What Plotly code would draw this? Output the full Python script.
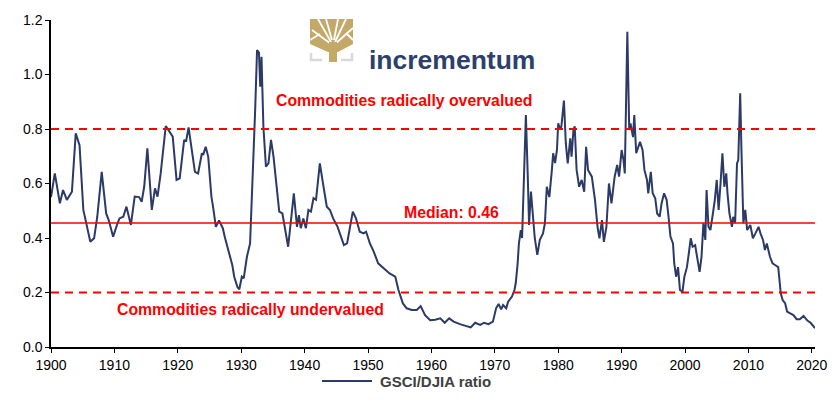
import plotly.graph_objects as go

# GSCI/DJIA ratio
years = [
    1900.0, 1900.6, 1901.4, 1901.9, 1902.5, 1903.3, 1903.9, 1904.5, 1905.1, 1905.6,
    1906.2, 1906.8, 1907.3, 1908.0, 1908.7, 1909.1, 1909.8, 1910.5, 1910.8, 1911.4,
    1911.9, 1912.6, 1913.2, 1913.9, 1914.3, 1914.7, 1915.2, 1915.9, 1916.4, 1916.8,
    1917.3, 1918.1, 1918.8, 1919.2, 1919.8, 1920.3, 1921.0, 1921.3, 1921.7, 1922.2,
    1922.7, 1923.2, 1923.8, 1924.0, 1924.4, 1924.8, 1925.3, 1925.6, 1926.0, 1926.5,
    1927.1, 1927.4, 1928.0, 1928.6, 1928.9, 1929.4, 1929.7, 1930.1, 1930.4, 1930.9,
    1931.4, 1931.8, 1932.2, 1932.5, 1932.8, 1933.0, 1933.2, 1933.5, 1933.9, 1934.3,
    1934.7, 1935.1, 1935.6, 1936.0, 1936.5, 1936.9, 1937.4, 1937.8, 1938.3, 1938.8,
    1939.1, 1939.4, 1939.8, 1940.2, 1940.6, 1941.0, 1941.4, 1941.8, 1942.4, 1942.9,
    1943.5, 1944.0, 1944.5, 1945.2, 1945.6, 1946.2, 1946.7, 1947.2, 1947.6, 1948.1,
    1948.7, 1949.3, 1949.7, 1950.3, 1950.9, 1951.6, 1952.4, 1953.4, 1954.3, 1954.8,
    1955.5, 1956.1, 1956.9, 1957.7, 1958.3, 1959.0, 1959.8, 1960.6, 1961.4, 1962.1,
    1962.8, 1963.5, 1964.5, 1965.6, 1966.2, 1966.9, 1967.7, 1968.3, 1969.0, 1969.7,
    1970.2, 1970.6, 1971.0, 1971.3, 1971.8, 1972.1, 1972.7, 1973.1, 1973.3, 1973.6,
    1973.8, 1974.1, 1974.3, 1974.6, 1974.9, 1975.2, 1975.4, 1975.7, 1976.1, 1976.3,
    1976.7, 1977.1, 1977.6, 1977.9, 1978.2, 1978.6, 1979.0, 1979.2, 1979.5, 1979.8,
    1980.0, 1980.3, 1980.5, 1980.9, 1981.2, 1981.5, 1981.9, 1982.1, 1982.4, 1982.6,
    1982.9, 1983.3, 1983.7, 1984.1, 1984.4, 1984.7, 1985.3, 1985.8, 1986.2, 1986.5,
    1986.9, 1987.2, 1987.6, 1988.0, 1988.4, 1988.9, 1989.3, 1989.6, 1990.0, 1990.3,
    1990.5, 1990.9, 1991.2, 1991.4, 1991.8, 1992.0, 1992.3, 1992.6, 1992.9, 1993.3,
    1993.6, 1994.0, 1994.2, 1994.6, 1994.9, 1995.3, 1995.6, 1996.0, 1996.3, 1996.7,
    1997.1, 1997.4, 1997.7, 1998.1, 1998.3, 1998.6, 1998.9, 1999.2, 1999.6, 1999.9,
    2000.3, 2000.6, 2000.9, 2001.2, 2001.6, 2001.9, 2002.3, 2002.6, 2002.9, 2003.2,
    2003.4, 2003.7, 2004.0, 2004.4, 2004.7, 2005.0, 2005.3, 2005.6, 2005.9, 2006.2,
    2006.5, 2006.7, 2007.0, 2007.4, 2007.6, 2007.9, 2008.2, 2008.4, 2008.7, 2008.9,
    2009.2, 2009.5, 2009.8, 2010.3, 2010.7, 2011.1, 2011.6, 2011.9, 2012.3, 2012.6,
    2012.9, 2013.4, 2013.8, 2014.2, 2014.7, 2015.1, 2015.4, 2015.8, 2016.1, 2016.6,
    2017.1, 2017.6, 2018.1, 2018.7, 2019.3, 2019.8, 2020.5,
]
ratio = [
    0.55, 0.637, 0.527, 0.576, 0.54, 0.57, 0.784, 0.741, 0.503, 0.454,
    0.386, 0.399, 0.478, 0.643, 0.49, 0.466, 0.405, 0.454, 0.472, 0.478,
    0.515, 0.448, 0.552, 0.55, 0.533, 0.588, 0.729, 0.503, 0.582, 0.552,
    0.637, 0.811, 0.784, 0.772, 0.613, 0.619, 0.76, 0.754, 0.806, 0.723,
    0.643, 0.637, 0.711, 0.705, 0.735, 0.698, 0.552, 0.509, 0.441, 0.464,
    0.436, 0.405, 0.35, 0.30, 0.258, 0.22, 0.212, 0.258, 0.252, 0.331,
    0.38, 0.60, 0.87, 1.09, 1.08, 0.955, 1.065, 0.808, 0.662, 0.674,
    0.76, 0.698, 0.576, 0.497, 0.49, 0.429, 0.368, 0.454, 0.564, 0.441,
    0.484, 0.436, 0.472, 0.436, 0.503, 0.497, 0.546, 0.54, 0.674, 0.60,
    0.515, 0.503, 0.472, 0.441, 0.417, 0.374, 0.38, 0.454, 0.497, 0.472,
    0.423, 0.417, 0.423, 0.38, 0.35, 0.307, 0.289, 0.27, 0.258, 0.209,
    0.16, 0.142, 0.136, 0.136, 0.15, 0.117, 0.098, 0.1, 0.105, 0.089,
    0.105, 0.093, 0.084, 0.077, 0.072, 0.089, 0.081, 0.089, 0.084, 0.093,
    0.142, 0.158, 0.138, 0.154, 0.142, 0.166, 0.185, 0.209, 0.234, 0.307,
    0.38, 0.429, 0.4, 0.625, 0.851, 0.625, 0.448, 0.57, 0.429, 0.4,
    0.338, 0.393, 0.417, 0.454, 0.588, 0.55, 0.65, 0.711, 0.675, 0.723,
    0.821, 0.797, 0.81, 0.904, 0.747, 0.674, 0.766, 0.698, 0.796, 0.81,
    0.65, 0.588, 0.613, 0.57, 0.735, 0.65, 0.625, 0.54, 0.441, 0.399,
    0.466, 0.386, 0.441, 0.6, 0.527, 0.625, 0.668, 0.625, 0.723, 0.686,
    0.637, 1.157, 0.796, 0.82, 0.77, 0.851, 0.711, 0.735, 0.753, 0.723,
    0.65, 0.613, 0.564, 0.643, 0.564, 0.546, 0.49, 0.478, 0.527, 0.564,
    0.54, 0.478, 0.405, 0.38, 0.307, 0.258, 0.293, 0.209, 0.203, 0.258,
    0.293, 0.344, 0.399, 0.368, 0.374, 0.331, 0.276, 0.331, 0.454, 0.393,
    0.576, 0.441, 0.429, 0.49, 0.54, 0.613, 0.503, 0.6, 0.711, 0.588,
    0.637, 0.564, 0.49, 0.441, 0.478, 0.454, 0.674, 0.686, 0.931, 0.723,
    0.454, 0.503, 0.429, 0.448, 0.399, 0.417, 0.441, 0.417, 0.393, 0.356,
    0.38, 0.331, 0.307, 0.301, 0.293, 0.197, 0.172, 0.16, 0.13, 0.123,
    0.117, 0.102, 0.102, 0.114, 0.097, 0.089, 0.069,
]

median = 0.455
over_level = 0.8
under_level = 0.2
y_ticks = [0.0, 0.2, 0.4, 0.6, 0.8, 1.0, 1.2]
x_ticks = list(range(1900, 2021, 10))

W, H = 840, 414
L, R, T, B = 51, 25, 20, 67
navy = '#2B3A67'


def paper(x, y):
    # pixel -> paper coords (used for logo / legend decoration)
    return (x - L) / (W - L - R), (H - B - y) / (H - T - B)


fig = go.Figure()
fig.add_trace(go.Scatter(
    x=years, y=ratio, mode='lines', name='GSCI/DJIA ratio',
    line=dict(color=navy, width=2), cliponaxis=False, showlegend=False
))

red = '#FF0000'
fig.add_hline(y=over_level, line=dict(color=red, width=2, dash='8px,6px'))
fig.add_hline(y=under_level, line=dict(color=red, width=2, dash='8px,6px'))
fig.add_hline(y=median, line=dict(color=red, width=1.6))

fnt = dict(family='Arial, Liberation Sans', size=15.8, color=red)
fig.add_annotation(x=1955.7, y=0.903, text='<b>Commodities radically overvalued</b>',
                   showarrow=False, font=fnt)
fig.add_annotation(x=1963.1, y=0.492, text='<b>Median: 0.46</b>', showarrow=False, font=fnt)
fig.add_annotation(x=1931.4, y=0.139, text='<b>Commodities radically undervalued</b>',
                   showarrow=False, font=fnt)

# logo: gold tree + wordmark
gold = '#C3A867'
shapes = []
x0, y0 = paper(310, 19)
x1, y1 = paper(353, 52)
shapes.append(dict(type='rect', xref='paper', yref='paper', x0=x0, y0=y1, x1=x1, y1=y0,
                   fillcolor=gold, line=dict(width=0), layer='above'))
# white gaps between the branches
for sx, sy, ex, ey in [(331, 44, 312, 30), (331, 42, 318, 19), (332, 40, 326, 19),
                       (334, 40, 338, 19), (335, 42, 346, 19), (335, 44, 353, 28),
                       (320, 34, 310, 40), (346, 33, 353, 40)]:
    ax, ay = paper(sx, sy)
    bx, by = paper(ex, ey)
    shapes.append(dict(type='line', xref='paper', yref='paper', x0=ax, y0=ay, x1=bx, y1=by,
                       line=dict(color='white', width=1.8), layer='above'))
# white corners under the crown
for pts in [[(310, 52), (310, 44), (328, 52)], [(353, 52), (353, 44), (338, 52)]]:
    path = 'M ' + ' L '.join('%f %f' % paper(px, py) for px, py in pts) + ' Z'
    shapes.append(dict(type='path', xref='paper', yref='paper', path=path,
                       fillcolor='white', line=dict(width=0), layer='above'))
tx0, ty0 = paper(329, 42)
tx1, ty1 = paper(337, 62)
shapes.append(dict(type='rect', xref='paper', yref='paper', x0=tx0, y0=ty1, x1=tx1, y1=ty0,
                   fillcolor=gold, line=dict(width=0), layer='above'))
for pts in [[(311, 53), (311, 60), (322, 60)], [(352, 53), (352, 60), (341, 60)]]:
    path = 'M ' + ' L '.join('%f %f' % paper(px, py) for px, py in pts)
    shapes.append(dict(type='path', xref='paper', yref='paper', path=path,
                       line=dict(color='#D9D9D9', width=2.5), layer='above'))

# legend drawn by hand (line sample + label)
ax, ay = paper(322, 381)
bx, by = paper(372, 381)
shapes.append(dict(type='line', xref='paper', yref='paper', x0=ax, y0=ay, x1=bx, y1=by,
                   line=dict(color=navy, width=2)))
fig.update_layout(shapes=list(fig.layout.shapes) + shapes)

gx, gy = paper(378, 381)
fig.add_annotation(xref='paper', yref='paper', x=gx, y=gy, xanchor='left', yanchor='middle',
                   text='<b>GSCI/DJIA ratio</b>', showarrow=False,
                   font=dict(family='Arial, Liberation Sans', size=15, color='#404040'))

lx, ly = paper(452, 43)
fig.add_annotation(xref='paper', yref='paper', x=lx, y=ly, text='incrementum',
                   showarrow=False,
                   font=dict(family='Arial, Liberation Sans', size=26.5, color='#2D3F6C', weight=600))

axis_font = dict(family='Arial, Liberation Sans', size=14, color='black')
fig.update_layout(
    width=W, height=H,
    margin=dict(l=L, r=R, t=T, b=B),
    plot_bgcolor='white', paper_bgcolor='white',
    showlegend=False,
    xaxis=dict(range=[1900, 2020.5], tickvals=x_ticks, showgrid=False, zeroline=False,
               showline=True, linecolor='black', linewidth=1.5, ticks='outside',
               ticklen=4, tickcolor='black', tickfont=axis_font),
    yaxis=dict(range=[0, 1.2], tickvals=y_ticks, tickformat='.1f', showgrid=False,
               zeroline=False, showline=True, linecolor='black', linewidth=1.5,
               ticks='outside', ticklen=4, tickcolor='black', tickfont=axis_font),
)

fig.write_html('out.html', config={'displayModeBar': False},
               post_script="document.body.style.margin='0';")
